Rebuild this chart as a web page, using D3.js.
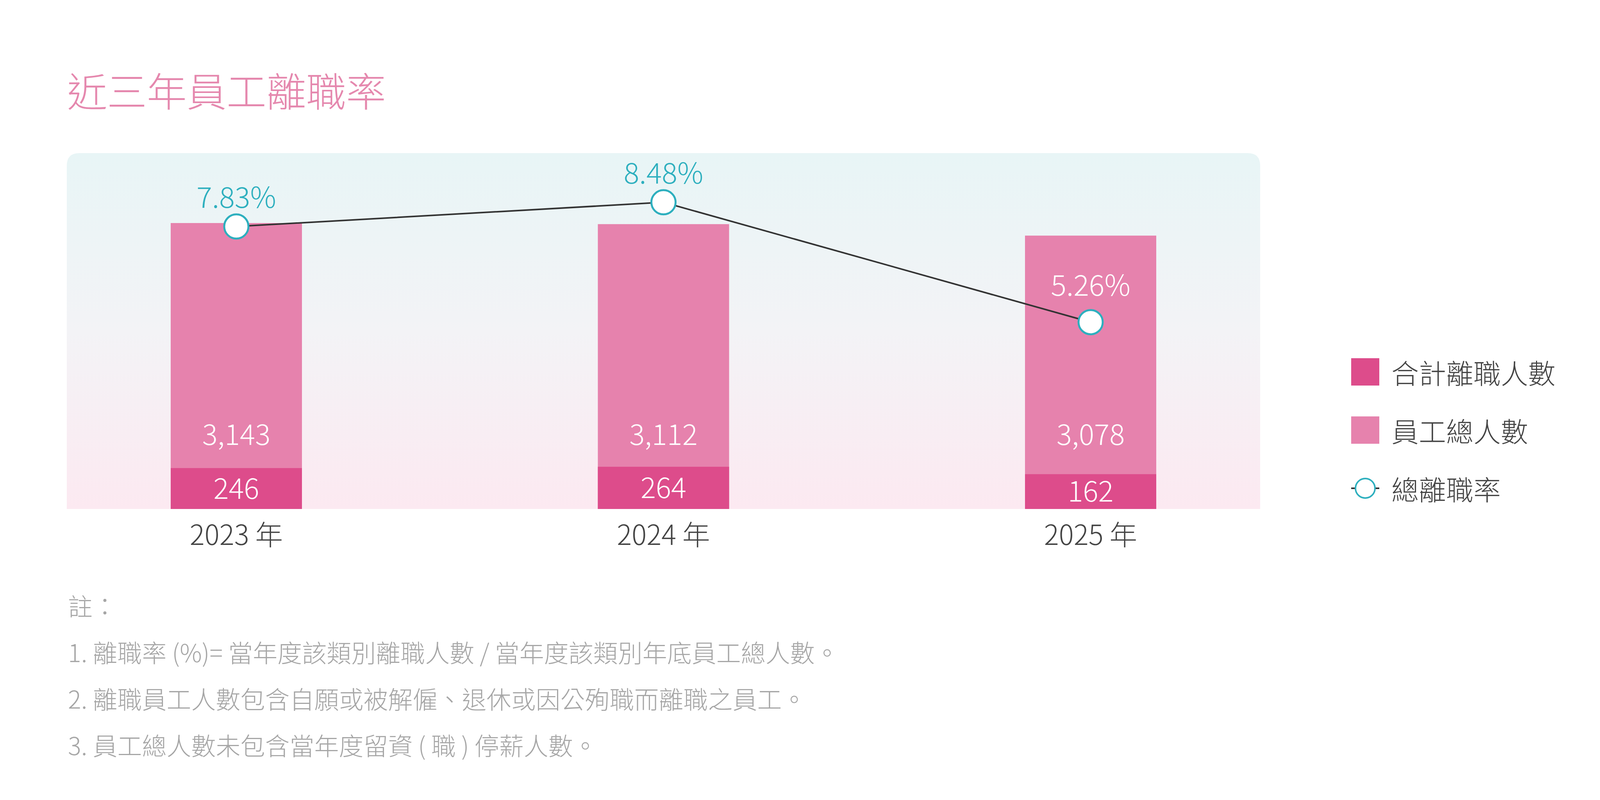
<!DOCTYPE html>
<html>
<head>
<meta charset="utf-8">
<script src="https://cdn.jsdelivr.net/npm/d3@7"></script>
<style>
  body { margin: 0; background: #fff; }
  text { font-family: "Noto Sans CJK TC", "Noto Sans", sans-serif; font-weight: 300; }
</style>
</head>
<body>
<div id="chart"></div>
<script>
// data
var years = ["2023", "2024", "2025"];
var totalStaff = [3143, 3112, 3078]; // 員工總人數
var leavers = [246, 264, 162]; // 合計離職人數
var rates = [7.83, 8.48, 5.26]; // 總離職率 (%)
var legendLabels = ["合計離職人數", "員工總人數", "總離職率"];
var notes = [
  "註：",
  "1. 離職率 (%)= 當年度該類別離職人數 / 當年度該類別年底員工總人數。",
  "2. 離職員工人數包含自願或被解僱、退休或因公殉職而離職之員工。",
  "3. 員工總人數未包含當年度留資 ( 職 ) 停薪人數。",
];

var width = 4266,
  height = 2048;

var darkPink = "#DD4C8B",
  lightPink = "#E682AD",
  teal = "#2DAFBE",
  textGray = "#444";

var svg = d3
  .select("#chart")
  .append("svg")
  .attr("width", width)
  .attr("height", height)
  .attr("viewBox", "0 0 " + width + " " + height);

// background gradient of the plot panel
var defs = svg.append("defs");
var grad = defs
  .append("linearGradient")
  .attr("id", "panelGrad")
  .attr("x1", 0)
  .attr("y1", 0)
  .attr("x2", 0)
  .attr("y2", 1);
grad.append("stop").attr("offset", "0%").attr("stop-color", "#E8F5F6");
grad.append("stop").attr("offset", "50%").attr("stop-color", "#F3F3F6");
grad.append("stop").attr("offset", "100%").attr("stop-color", "#FCE9F1");

// title
svg
  .append("text")
  .attr("x", 172)
  .attr("y", 228)
  .attr("dominant-baseline", "central")
  .attr("font-size", 102)
  .attr("fill", "#E588AE")
  .text("近三年員工離職率");

var panel = { left: 171, right: 3226, top: 392, bottom: 1303 };

// panel with rounded top corners only
var r = 32;
svg
  .append("path")
  .attr(
    "d",
    "M" + panel.left + "," + panel.bottom +
      "V" + (panel.top + r) +
      "Q" + panel.left + "," + panel.top + " " + (panel.left + r) + "," + panel.top +
      "H" + (panel.right - r) +
      "Q" + panel.right + "," + panel.top + " " + panel.right + "," + (panel.top + r) +
      "V" + panel.bottom + "Z"
  )
  .attr("fill", "url(#panelGrad)");

// scales
var x = d3.scalePoint().domain(years).range([605, 2792]);
var barW = 336;

// stacked height: staff + leavers
var y = d3.scaleLinear().domain([0, 4000]).range([panel.bottom, 439]);
// the leaver block is drawn on its own (non zero-based) scale, as in the original
var leaverH = d3.scaleLinear().domain([0, 300]).range([59, 114.8]);
var yRate = d3.scaleLinear().domain([0, 10]).range([1326, 373]);

var data = years.map(function (yr, i) {
  return {
    year: yr,
    staff: totalStaff[i],
    leave: leavers[i],
    rate: rates[i],
  };
});

var bars = svg.append("g");

// light bar (全部員工)
bars
  .selectAll("rect.staff")
  .data(data)
  .join("rect")
  .attr("class", "staff")
  .attr("x", (d) => x(d.year) - barW / 2)
  .attr("width", barW)
  .attr("y", (d) => y(d.staff + d.leave))
  .attr("height", (d) => panel.bottom - y(d.staff + d.leave))
  .attr("fill", lightPink);

// dark bar (離職)
bars
  .selectAll("rect.leave")
  .data(data)
  .join("rect")
  .attr("class", "leave")
  .attr("x", (d) => x(d.year) - barW / 2)
  .attr("width", barW)
  .attr("y", (d) => panel.bottom - leaverH(d.leave))
  .attr("height", (d) => leaverH(d.leave))
  .attr("fill", darkPink);

// staff labels
bars
  .selectAll("text.staffLbl")
  .data(data)
  .join("text")
  .attr("class", "staffLbl")
  .attr("x", (d) => x(d.year))
  .attr("y", panel.bottom - 164)
  .attr("text-anchor", "middle")
  .attr("font-size", 73)
  .attr("fill", "#fff")
  .text((d) => d3.format(",")(d.staff));

// leaver labels
bars
  .selectAll("text.leaveLbl")
  .data(data)
  .join("text")
  .attr("class", "leaveLbl")
  .attr("x", (d) => x(d.year))
  .attr("y", (d) => panel.bottom - leaverH(d.leave) / 2 + 26)
  .attr("text-anchor", "middle")
  .attr("font-size", 73)
  .attr("fill", "#fff")
  .text((d) => d.leave);

// x axis labels
svg
  .append("g")
  .selectAll("text")
  .data(data)
  .join("text")
  .attr("x", (d) => x(d.year))
  .attr("y", 1395)
  .attr("text-anchor", "middle")
  .attr("font-size", 71)
  .attr("fill", textGray)
  .text((d) => d.year + " 年");

// rate line
var line = d3
  .line()
  .x((d) => x(d.year))
  .y((d) => yRate(d.rate));

svg
  .append("path")
  .datum(data)
  .attr("d", line)
  .attr("fill", "none")
  .attr("stroke", "#333")
  .attr("stroke-width", 4);

svg
  .append("g")
  .selectAll("circle")
  .data(data)
  .join("circle")
  .attr("cx", (d) => x(d.year))
  .attr("cy", (d) => yRate(d.rate))
  .attr("r", 31)
  .attr("fill", "#fff")
  .attr("stroke", teal)
  .attr("stroke-width", 5);

// rate labels: white when they sit inside the bar
function insideBar(d) {
  return yRate(d.rate) - 48 - 56 > y(d.staff + d.leave);
}
svg
  .append("g")
  .selectAll("text")
  .data(data)
  .join("text")
  .attr("x", (d) => x(d.year))
  .attr("y", (d) => yRate(d.rate) - (insideBar(d) ? 68 : 48))
  .attr("text-anchor", "middle")
  .attr("font-size", 74)
  .attr("fill", (d) => (insideBar(d) ? "#fff" : teal))
  .text((d) => d.rate.toFixed(2) + "%");

// legend
var legend = svg.append("g").attr("transform", "translate(3459,0)");
var legendY = [952, 1101, 1250];

legend
  .selectAll("rect")
  .data([darkPink, lightPink])
  .join("rect")
  .attr("x", 0)
  .attr("y", (d, i) => legendY[i] - 35)
  .attr("width", 72)
  .attr("height", 70)
  .attr("fill", (d) => d);

legend
  .append("line")
  .attr("x1", 0)
  .attr("x2", 72)
  .attr("y1", legendY[2])
  .attr("y2", legendY[2])
  .attr("stroke", "#333")
  .attr("stroke-width", 4);
legend
  .append("circle")
  .attr("cx", 36)
  .attr("cy", legendY[2])
  .attr("r", 25)
  .attr("fill", "#fff")
  .attr("stroke", teal)
  .attr("stroke-width", 4);

legend
  .selectAll("text")
  .data(legendLabels)
  .join("text")
  .attr("x", 103)
  .attr("y", (d, i) => legendY[i])
  .attr("dominant-baseline", "central")
  .attr("font-size", 70)
  .attr("fill", textGray)
  .text((d) => d);

// notes
svg
  .append("g")
  .selectAll("text")
  .data(notes)
  .join("text")
  .attr("x", 174)
  .attr("y", (d, i) => 1548 + i * 119)
  .attr("dominant-baseline", "central")
  .attr("font-size", 63)
  .attr("fill", "#A6A6A6")
  .text((d) => d);
</script>
</body>
</html>
